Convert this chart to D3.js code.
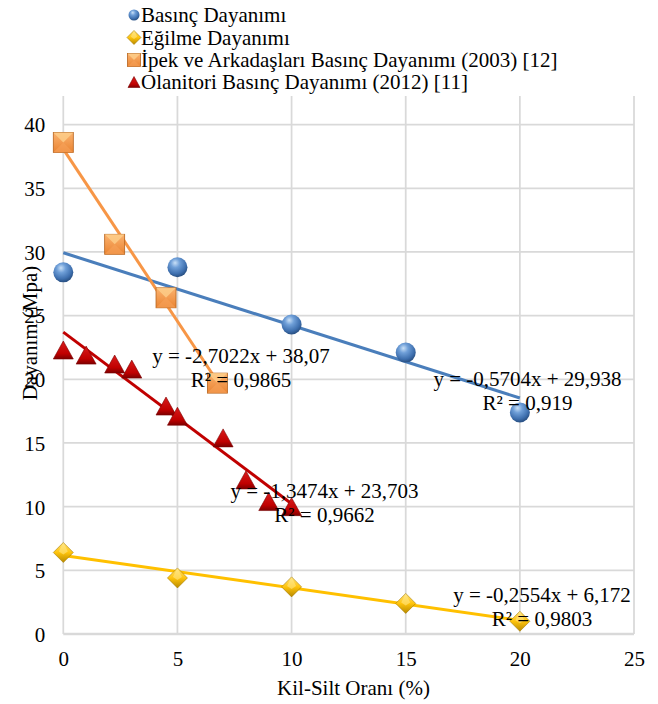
<!DOCTYPE html>
<html><head><meta charset="utf-8">
<script src="https://cdn.jsdelivr.net/npm/d3@7"></script>
<style>
body{margin:0;background:#fff}
svg{display:block}
text{font-family:"Liberation Serif","Times New Roman",serif;font-size:21px;fill:#000}
</style>
</head><body><svg id="c" width="658" height="704"></svg>
<script>
const seriesNames = ["Basınç Dayanımı","Eğilme Dayanımı","İpek ve Arkadaşları Basınç Dayanımı (2003) [12]","Olanitori Basınç Dayanımı (2012) [11]"];
const basincX = [0,5,10,15,20];
const basincY = [28.4,28.8,24.3,22.1,17.4];
const egilmeX = [0,5,10,15,20];
const egilmeY = [6.4,4.4,3.7,2.4,1.0];
const ipekX = [0,2.25,4.5,6.75];
const ipekY = [38.6,30.6,26.4,19.7];
const olanitoriX = [0,1,2.25,3,4.5,5,7,8,9,10];
const olanitoriY = [22.3,21.9,21.2,20.8,17.9,17.1,15.4,12.1,10.4,10.0];
const trendSlope = [-0.5704,-0.2554,-2.7022,-1.3474];
const trendIntercept = [29.938,6.172,38.07,23.703];
const trendEq = ["y = -0,5704x + 29,938","y = -0,2554x + 6,172","y = -2,7022x + 38,07","y = -1,3474x + 23,703"];
const trendR2 = ["R² = 0,919","R² = 0,9803","R² = 0,9865","R² = 0,9662"];
const xTicks = [0,5,10,15,20,25];
const yTicks = [0,5,10,15,20,25,30,35,40];
const xTitle = "Kil-Silt Oranı (%)";
const yTitle = "Dayanım (Mpa)";

const svg = d3.select("#c");
const x = d3.scaleLinear().domain([0,25]).range([63.3,634]);
const y = d3.scaleLinear().domain([0,40]).range([634,124.6]);
const plotTop = 96;

// gradients
const defs = svg.append("defs");
const rg = defs.append("radialGradient").attr("id","sph").attr("cx","42%").attr("cy","32%").attr("r","65%").attr("fx","38%").attr("fy","28%");
rg.append("stop").attr("offset","0%").attr("stop-color","#c9e0f7");
rg.append("stop").attr("offset","35%").attr("stop-color","#6f9fd8");
rg.append("stop").attr("offset","80%").attr("stop-color","#3e6fae");
rg.append("stop").attr("offset","100%").attr("stop-color","#2c5488");
const lgD = defs.append("linearGradient").attr("id","dia").attr("x1","0").attr("y1","0").attr("x2","0").attr("y2","1");
lgD.append("stop").attr("offset","0%").attr("stop-color","#ffe27a");
lgD.append("stop").attr("offset","50%").attr("stop-color","#ffc40c");
lgD.append("stop").attr("offset","100%").attr("stop-color","#b88a00");
const lgS = defs.append("linearGradient").attr("id","sq").attr("x1","0").attr("y1","0").attr("x2","0").attr("y2","1");
lgS.append("stop").attr("offset","0%").attr("stop-color","#fbb26e");
lgS.append("stop").attr("offset","100%").attr("stop-color","#ea8432");
const lgT = defs.append("linearGradient").attr("id","tri").attr("x1","0").attr("y1","0").attr("x2","0").attr("y2","1");
lgT.append("stop").attr("offset","0%").attr("stop-color","#d81c1c");
lgT.append("stop").attr("offset","70%").attr("stop-color","#c00000");
lgT.append("stop").attr("offset","100%").attr("stop-color","#7d0000");

// grid
const gridC = "#d9d9d9";
svg.append("g").selectAll("line").data(yTicks).join("line")
  .attr("x1",x(0)).attr("x2",x(25)).attr("y1",d=>y(d)).attr("y2",d=>y(d))
  .attr("stroke",gridC).attr("stroke-width",d=>d===0?2.5:1.75);
svg.append("g").selectAll("line").data(xTicks).join("line")
  .attr("x1",d=>x(d)).attr("x2",d=>x(d)).attr("y1",y(0)).attr("y2",plotTop)
  .attr("stroke",gridC).attr("stroke-width",1.75);

// axes labels via d3 axes
const ax = svg.append("g").attr("transform",`translate(0,${y(0)})`)
  .call(d3.axisBottom(x).tickValues(xTicks).tickSize(0).tickPadding(0).tickFormat(d3.format("d")));
ax.select(".domain").remove();
ax.selectAll("text").attr("y",32).attr("dy",null).style("font-size","21px").style("font-family",'"Liberation Serif","Times New Roman",serif').attr("fill","#000");
const ay = svg.append("g").attr("transform",`translate(${x(0)},0)`)
  .call(d3.axisLeft(y).tickValues(yTicks).tickSize(0).tickPadding(0).tickFormat(d3.format("d")));
ay.select(".domain").remove();
ay.selectAll("text").attr("x",-18).attr("dy","0.35em").style("font-size","21px").style("font-family",'"Liberation Serif","Times New Roman",serif').attr("fill","#000");

svg.append("text").attr("x",353.5).attr("y",695).attr("text-anchor","middle").text(xTitle);
svg.append("text").attr("transform","translate(37,333) rotate(-90)").attr("text-anchor","middle").text(yTitle);

// trendlines
const seriesX = [basincX,egilmeX,ipekX,olanitoriX];
const seriesY = [basincY,egilmeY,ipekY,olanitoriY];
const lineColors = ["#4a7ebb","#ffc000","#f79646","#c00000"];
const tg = svg.append("g");
seriesX.forEach((xs,i)=>{
  const x0 = d3.min(xs), x1 = d3.max(xs);
  tg.append("line")
    .attr("x1",x(x0)).attr("y1",y(trendSlope[i]*x0+trendIntercept[i]))
    .attr("x2",x(x1)).attr("y2",y(trendSlope[i]*x1+trendIntercept[i]))
    .attr("stroke",lineColors[i]).attr("stroke-width",3);
});

// marker drawers
function circle(g,cx,cy,r){ g.append("circle").attr("cx",cx).attr("cy",cy).attr("r",r).attr("fill","url(#sph)"); }
function diamond(g,cx,cy,h){
  g.append("path").attr("d",`M${cx},${cy-h}L${cx+h},${cy}L${cx},${cy+h}L${cx-h},${cy}Z`).attr("fill","url(#dia)").attr("stroke","#a67c00").attr("stroke-width",0.6);
  g.append("path").attr("d",`M${cx},${cy-h}L${cx+h*0.45},${cy-h*0.1}L${cx},${cy+h*0.2}L${cx-h*0.45},${cy-h*0.1}Z`).attr("fill","#ffe98f").attr("opacity",0.55);
}
function square(g,cx,cy,s){
  const h=s/2;
  g.append("rect").attr("x",cx-h).attr("y",cy-h).attr("width",s).attr("height",s).attr("fill","url(#sq)").attr("stroke","#b5621c").attr("stroke-width",0.8);
  g.append("path").attr("d",`M${cx-h},${cy-h}L${cx+h},${cy-h}L${cx},${cy}Z`).attr("fill","#fdd28e").attr("opacity",0.75);
  g.append("path").attr("d",`M${cx-h},${cy+h}L${cx+h},${cy+h}L${cx},${cy}Z`).attr("fill","#f7a25a").attr("opacity",0.6);
}
function triangle(g,cx,cy,w,hh){
  g.append("path").attr("d",`M${cx},${cy-hh/2}L${cx+w/2},${cy+hh/2}L${cx-w/2},${cy+hh/2}Z`).attr("fill","url(#tri)").attr("stroke","#7a0000").attr("stroke-width",0.6);
}

const mg = svg.append("g");
basincX.forEach((v,i)=>circle(mg,x(v),y(basincY[i]),10));
egilmeX.forEach((v,i)=>diamond(mg,x(v),y(egilmeY[i]),10));
ipekX.forEach((v,i)=>square(mg,x(v),y(ipekY[i]),20));
olanitoriX.forEach((v,i)=>triangle(mg,x(v),y(olanitoriY[i]),20,18));

// trend labels
const labelPos = [[527.5,386],[542,602],[241,363],[324.5,498]];
const lg2 = svg.append("g");
labelPos.forEach((p,i)=>{
  lg2.append("text").attr("x",p[0]).attr("y",p[1]).attr("text-anchor","middle").text(trendEq[i]);
  lg2.append("text").attr("x",p[0]).attr("y",p[1]+23.5).attr("text-anchor","middle").text(trendR2[i]);
});

// legend
const leg = svg.append("g");
const legY = [22,44.5,67,89];
const legX = 141, mx = 134;
seriesNames.forEach((n,i)=>{
  leg.append("text").attr("x",legX).attr("y",legY[i]).text(n);
});
circle(leg,mx,legY[0]-7,5.5);
diamond(leg,mx,legY[1]-7,7);
square(leg,mx,legY[2]-7,13);
triangle(leg,mx,legY[3]-7,12,11);
</script>
</body></html>
